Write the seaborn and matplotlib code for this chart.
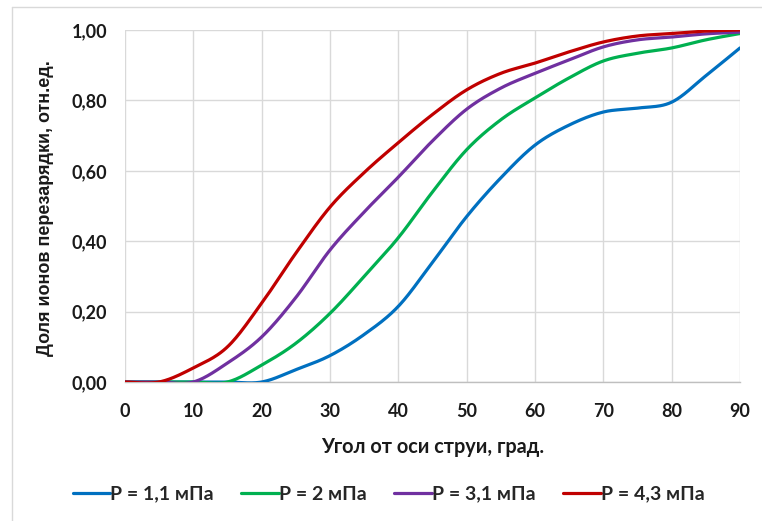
import numpy as np
import pandas as pd
import matplotlib
matplotlib.use("Agg")
import matplotlib.pyplot as plt
from matplotlib.lines import Line2D
from matplotlib.ticker import FuncFormatter
import seaborn as sns

# Angle from the jet axis, degrees
angles = [0, 5, 10, 15, 20, 25, 30, 35, 40, 45, 50, 55, 60, 65, 70, 75, 80, 85, 90]

# Fraction of charge-exchange ions for each pressure
p_1_1 = [0, 0, 0, 0, 0, 0.035, 0.075, 0.135, 0.215, 0.34, 0.47, 0.58, 0.673,
         0.73, 0.767, 0.778, 0.795, 0.87, 0.949]
p_2 = [0, 0, 0, 0, 0.048, 0.11, 0.195, 0.30, 0.41, 0.54, 0.66, 0.745, 0.807,
       0.864, 0.912, 0.934, 0.949, 0.972, 0.99]
p_3_1 = [0, 0, 0, 0.054, 0.128, 0.24, 0.375, 0.483, 0.582, 0.685, 0.775, 0.835,
         0.877, 0.915, 0.952, 0.972, 0.98, 0.989, 0.994]
p_4_3 = [0, 0, 0.04, 0.10, 0.224, 0.366, 0.497, 0.595, 0.68, 0.76, 0.83,
         0.877, 0.906, 0.938, 0.966, 0.983, 0.99, 0.997, 1.0]

series_names = ["P = 1,1 мПа", "P = 2 мПа", "P = 3,1 мПа", "P = 4,3 мПа"]
series_values = [p_1_1, p_2, p_3_1, p_4_3]
colors = ["#0070C0", "#00B050", "#7030A0", "#C00000"]

x_ticks = [0, 10, 20, 30, 40, 50, 60, 70, 80, 90]
y_ticks = [0.0, 0.2, 0.4, 0.6, 0.8, 1.0]


def smoothed(x, y, steps=24):
    """Trace a smoothed line through the points (cubic Bezier segments,
    Catmull-Rom control points), like a spreadsheet 'smoothed line'."""
    x = np.asarray(x, float)
    y = np.asarray(y, float)
    n = len(x)
    xs, ys = [x[0]], [y[0]]
    t = np.linspace(0, 1, steps + 1)[1:]
    for i in range(n - 1):
        i0, i3 = max(i - 1, 0), min(i + 2, n - 1)
        p0 = np.array([x[i], y[i]])
        p3 = np.array([x[i + 1], y[i + 1]])
        c1 = p0 + (p3 - np.array([x[i0], y[i0]])) / 6.0
        c2 = p3 - (np.array([x[i3], y[i3]]) - p0) / 6.0
        b = ((1 - t) ** 3)[:, None] * p0 + (3 * (1 - t) ** 2 * t)[:, None] * c1 \
            + (3 * (1 - t) * t ** 2)[:, None] * c2 + (t ** 3)[:, None] * p3
        xs.extend(b[:, 0])
        ys.extend(b[:, 1])
    return np.array(xs), np.array(ys)


frames = []
for name, vals in zip(series_names, series_values):
    sx, sy = smoothed(angles, vals)
    frames.append(pd.DataFrame({"angle": sx, "value": sy, "series": name}))
df = pd.concat(frames, ignore_index=True)

sns.set_theme(style="white")
plt.rcParams["font.family"] = ["Lato", "DejaVu Sans"]

fig = plt.figure(figsize=(7.62, 5.21), dpi=100)
ax = fig.add_axes([125 / 762, 1 - 382 / 521, 615 / 762, 352 / 521])

sns.lineplot(data=df, x="angle", y="value", hue="series", sort=False,
             hue_order=series_names, palette=colors, linewidth=2.3,
             legend=False, ax=ax, zorder=3)

ax.set_xlim(0, 90)
ax.set_ylim(0, 1.0)
ax.set_xticks(x_ticks)
ax.set_yticks(y_ticks)
ax.yaxis.set_major_formatter(FuncFormatter(lambda v, _: f"{v:.2f}".replace(".", ",")))
ax.grid(True, color="#d9d9d9", linewidth=1.0, zorder=0)
for side in ["top", "right", "left"]:
    ax.spines[side].set_visible(False)
ax.spines["bottom"].set_color("#bfbfbf")
ax.spines["bottom"].set_linewidth(1.0)
ax.tick_params(axis="both", length=0, labelsize=13, colors="#1a1a1a")
ax.tick_params(axis="y", pad=13)
ax.tick_params(axis="x", pad=15)
for lbl in ax.get_xticklabels() + ax.get_yticklabels():
    lbl.set_fontweight("bold")

ax.set_xlabel("Угол от оси струи, град.", fontsize=14.3, fontweight="bold",
              color="#1a1a1a", labelpad=12)
ax.set_ylabel("Доля ионов перезарядки, отн.ед.", fontsize=13,
              fontweight="bold", color="#1a1a1a",
              family=["Liberation Sans", "DejaVu Sans"])
ax.yaxis.set_label_coords(-0.115, 0.494)

handles = [Line2D([], [], color=c, linewidth=2.3) for c in colors]
fig.legend(handles, series_names, loc="center", bbox_to_anchor=(0.51, 1 - 494 / 521),
           ncol=4, frameon=False, handlelength=1.95,
           handletextpad=0.0, columnspacing=1.4,
           prop={"weight": "bold", "size": 14})

# Chart-area border (left and top edges)
fig.add_artist(Line2D([12 / 762, 12 / 762], [0, 1 - 7 / 521],
                      transform=fig.transFigure, color="#d9d9d9", linewidth=1.0))
fig.add_artist(Line2D([12 / 762, 1], [1 - 7 / 521, 1 - 7 / 521],
                      transform=fig.transFigure, color="#d9d9d9", linewidth=1.0))

fig.savefig("out.png", dpi=100)
